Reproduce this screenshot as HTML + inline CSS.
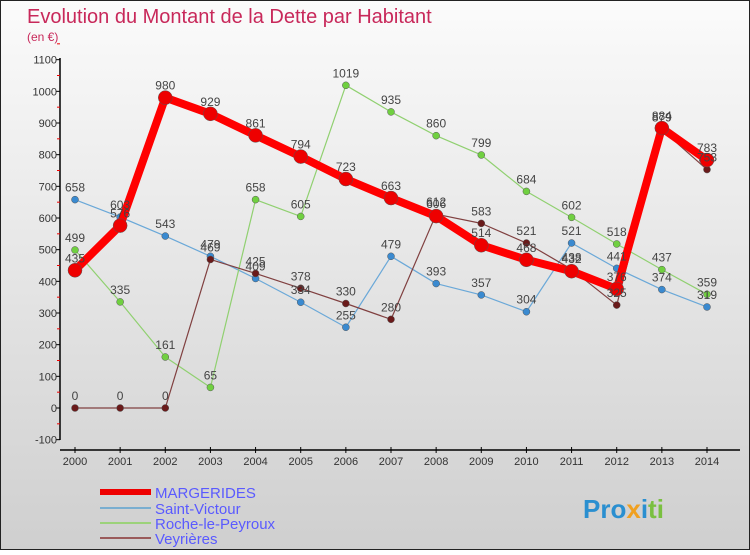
<!DOCTYPE html>
<html><head><meta charset="utf-8"><style>
body{margin:0;width:750px;height:550px;overflow:hidden;font-family:"Liberation Sans",sans-serif}
</style></head><body>
<svg width="750" height="550" xmlns="http://www.w3.org/2000/svg">
<defs><linearGradient id="bg" x1="0" y1="0" x2="0" y2="1"><stop offset="0" stop-color="#fbfbfb"/><stop offset="1" stop-color="#cfcfcf"/></linearGradient></defs>
<rect x="0" y="0" width="750" height="550" fill="url(#bg)" stroke="#222" stroke-width="2"/>
<text x="27" y="23" font-size="20" fill="#c8285a">Evolution du Montant de la Dette par Habitant</text>
<text x="27" y="41" font-size="12" fill="#c8285a">(en €)</text>
<g id="axes"></g><g id="series"></g><g id="labels"></g>
<g font-size="15" fill="#5a5aff">
<line x1="100" y1="492" x2="151" y2="492" stroke="#ee0000" stroke-width="6"/>
<text x="155" y="498">MARGERIDES</text>
<line x1="100" y1="508" x2="151" y2="508" stroke="#7aaed0" stroke-width="2"/>
<text x="155" y="514">Saint-Victour</text>
<line x1="100" y1="523" x2="151" y2="523" stroke="#9cd27a" stroke-width="2"/>
<text x="155" y="529">Roche-le-Peyroux</text>
<line x1="100" y1="538" x2="151" y2="538" stroke="#9a5a5a" stroke-width="2"/>
<text x="155" y="544">Veyrières</text>
</g>
<text x="583" y="518" font-size="26" font-weight="bold"><tspan fill="#2a8fd0">Pro</tspan><tspan fill="#f0a020">x</tspan><tspan fill="#2a8fd0">i</tspan><tspan fill="#7ac040">ti</tspan></text>
</svg>
<script>
const years=[2000,2001,2002,2003,2004,2005,2006,2007,2008,2009,2010,2011,2012,2013,2014];
const margerides=[435,576,980,929,861,794,723,663,606,514,468,432,376,884,783];
const saintVictour=[658,603,543,479,409,334,255,479,393,357,304,521,441,374,319];
const roche=[499,335,161,65,658,605,1019,935,860,799,684,602,518,437,359];
const veyrieres=[0,0,0,469,425,378,330,280,612,583,521,438,325,879,753];
const yTicks=[-100,0,100,200,300,400,500,600,700,800,900,1000,1100];
const NS="http://www.w3.org/2000/svg";
const X=i=>75+i*(707-75)/(years.length-1);
const Y=v=>408-v*(380/1200);
function mk(p,t,a){const e=document.createElementNS(NS,t);for(const k in a)e.setAttribute(k,a[k]);p.appendChild(e);return e;}
const ax=document.getElementById('axes'),sg=document.getElementById('series'),lg=document.getElementById('labels');
const yl=mk(ax,'line',{x1:60,y1:58,x2:60,y2:440,stroke:'#000','stroke-width':1.5});


yTicks.forEach(v=>{
 mk(ax,'line',{x1:56,y1:Y(v),x2:60,y2:Y(v),stroke:'#000'});
 mk(ax,'line',{x1:57,y1:Y(v+50),x2:60,y2:Y(v+50),stroke:'#e00'});
 const t=mk(ax,'text',{x:57,y:Y(v)+4,'font-size':11,fill:'#333','text-anchor':'end'});t.textContent=v;
 
 
});
const xl=mk(ax,'line',{x1:60,y1:450,x2:740,y2:450,stroke:'#000','stroke-width':1.5});


years.forEach((y,i)=>{
 mk(ax,'line',{x1:X(i),y1:447,x2:X(i),y2:453,stroke:'#000'});
 const t=mk(ax,'text',{x:X(i),y:465,'font-size':11,fill:'#333','text-anchor':'middle'});t.textContent=y;
 
 
});
function draw(data,name,col,dot,w,r){
 const pl=mk(sg,'polyline',{points:data.map((v,i)=>X(i)+','+Y(v)).join(' '),fill:'none',stroke:col,'stroke-width':w,'stroke-linejoin':'round'});
 
 
 data.forEach((v,i)=>{
  const c=mk(sg,'circle',{cx:X(i),cy:Y(v),r:r,fill:dot,stroke:'#555','stroke-width':0.5});
  
  
  const t=mk(lg,'text',{x:X(i),y:Y(v)-8,'font-size':12,fill:'#444','text-anchor':'middle'});t.textContent=v;
  
  
 });
}
draw(saintVictour,'saint-victour','#6aa8d8','#3a8ad0',1.2,3.5);
draw(roche,'roche-le-peyroux','#90d070','#70d040',1.2,3.5);
draw(veyrieres,'veyrieres','#804040','#6a1a1a',1.2,3.5);
draw(margerides,'margerides','#ff0000','#ee0000',8,7);
</script>
</body></html>
